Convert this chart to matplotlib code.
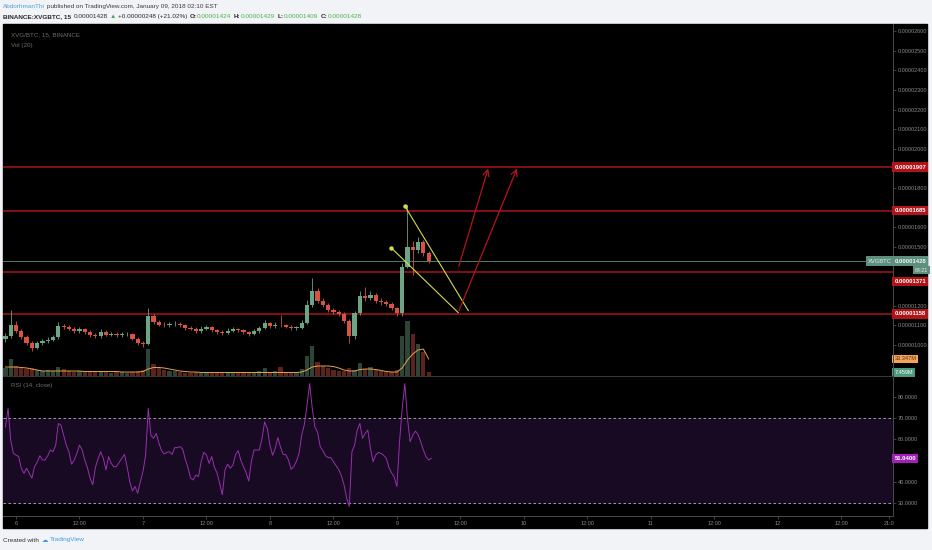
import matplotlib
matplotlib.use('Agg')
import numpy as np
import matplotlib.pyplot as plt
from matplotlib.patches import Rectangle

plt.rcParams['font.family'] = ['Liberation Sans', 'DejaVu Sans']

W, H = 932, 550

# one candle per hour, hours counted from 2018-01-06 00:00
hours = list(range(-2, 79))
first_open = 1030
# prices in satoshi (1e-8 BTC)
closes = [1044, 1104, 1070, 1039, 1010, 985, 1010, 1019, 1028, 1039,
          1096, 1090, 1084, 1070, 1079, 1067, 1050, 1044, 1067, 1053,
          1058, 1050, 1055, 1056, 1033, 1010, 1005, 1147, 1118, 1104,
          1100, 1106, 1107, 1102, 1087, 1084, 1070, 1082, 1092, 1075,
          1067, 1063, 1073, 1079, 1075, 1065, 1058, 1070, 1087, 1111,
          1096, 1104, 1100, 1094, 1087, 1089, 1113, 1206, 1274, 1226,
          1203, 1177, 1169, 1160, 1121, 1044, 1164, 1249, 1240, 1257,
          1223, 1220, 1211, 1189, 1164, 1399, 1501, 1484, 1526, 1469,
          1428]
highs = [1060, 1180, 1120, 1082, 1050, 1022, 1020, 1030, 1040, 1052,
         1115, 1108, 1100, 1092, 1090, 1088, 1075, 1060, 1080, 1075,
         1068, 1066, 1065, 1068, 1062, 1040, 1018, 1189, 1160, 1125,
         1115, 1118, 1120, 1115, 1108, 1095, 1090, 1095, 1102, 1098,
         1082, 1075, 1085, 1090, 1088, 1080, 1070, 1080, 1098, 1125,
         1118, 1115, 1155, 1108, 1100, 1098, 1125, 1230, 1341, 1290,
         1240, 1215, 1190, 1180, 1170, 1130, 1175, 1275, 1296, 1275,
         1265, 1240, 1230, 1218, 1195, 1420, 1713, 1530, 1552, 1535,
         1480]
lows = [1015, 1035, 1060, 1030, 1000, 970, 978, 1002, 1010, 1020,
        1030, 1080, 1075, 1062, 1062, 1058, 1042, 1035, 1038, 1045,
        1045, 1042, 1043, 1046, 1025, 1000, 992, 1000, 1105, 1095,
        1090, 1092, 1098, 1094, 1078, 1075, 1060, 1062, 1075, 1068,
        1058, 1052, 1055, 1065, 1066, 1056, 1048, 1052, 1062, 1080,
        1088, 1088, 1090, 1085, 1078, 1078, 1080, 1105, 1195, 1215,
        1195, 1168, 1160, 1150, 1110, 1010, 1030, 1155, 1225, 1230,
        1212, 1205, 1200, 1180, 1150, 1150, 1390, 1357, 1470, 1455,
        1420]
# volume in millions, and its 20 period average
volume = [15.7, 33.3, 19.6, 15.7, 13.7, 15.7, 11.8, 9.8, 11.8, 9.8,
          17.6, 13.7, 9.8, 7.8, 9.8, 7.8, 9.8, 7.8, 9.8, 7.8,
          5.9, 7.8, 7.8, 5.9, 7.8, 9.8, 11.8, 52.9, 23.5, 15.7,
          11.8, 9.8, 9.8, 7.8, 5.9, 5.9, 7.8, 5.9, 7.8, 5.9,
          5.9, 5.9, 7.8, 5.9, 5.9, 7.8, 5.9, 5.9, 9.8, 15.7,
          7.8, 9.8, 17.6, 7.8, 5.9, 7.8, 13.7, 39.2, 58.8, 27.4,
          19.6, 15.7, 11.8, 9.8, 9.8, 15.7, 11.8, 25.5, 13.7, 17.6,
          11.8, 9.8, 7.8, 7.8, 11.8, 78.4, 107.8, 82.3, 62.7, 47.0,
          7.459]
vol_ma = [17.6, 17.6, 17.6, 16.7, 15.7, 13.7, 11.8, 9.8, 9.8, 9.8,
          9.8, 9.8, 9.8, 9.8, 9.8, 8.8, 8.8, 8.8, 8.8, 8.8,
          8.8, 8.8, 7.8, 7.8, 7.8, 7.8, 8.8, 13.7, 16.7, 16.7,
          15.7, 13.7, 11.8, 9.8, 8.8, 7.8, 7.8, 6.9, 6.9, 6.9,
          6.9, 6.9, 6.9, 6.9, 6.9, 6.9, 6.9, 6.9, 6.9, 6.9,
          6.9, 6.9, 6.9, 6.9, 6.9, 6.9, 7.8, 11.8, 17.6, 19.6,
          19.6, 19.6, 18.6, 15.7, 11.8, 9.8, 9.8, 12.7, 13.7, 13.7,
          12.7, 10.8, 8.8, 7.8, 7.8, 15.7, 31.4, 43.1, 51.0, 52.9,
          33.347]
# RSI(14) every half hour from hour -2
rsi = [65.9, 74.6, 59.7, 53.4, 52.6, 51.9, 46.4, 44.0, 46.4, 44.0,
       41.7, 47.2, 49.2, 52.3, 50.3, 50.3, 52.3, 55.0, 54.2, 57.3,
       67.5, 66.7, 62.0, 57.3, 54.2, 48.3, 50.3, 53.4, 57.3, 55.0,
       50.3, 46.7, 41.7, 38.6, 46.7, 50.8, 54.2, 51.1, 45.6, 51.9,
       48.7, 47.0, 47.3, 49.2, 51.1, 52.9, 47.2, 40.1, 35.7, 37.8,
       34.6, 40.1, 44.8, 52.6, 74.6, 62.0, 60.5, 62.8, 58.4, 54.7,
       53.1, 53.9, 54.2, 52.9, 56.1, 56.1, 56.6, 55.5, 50.6, 46.7,
       41.7, 40.9, 43.2, 42.5, 49.5, 53.9, 52.6, 48.7, 51.9, 46.8,
       44.2, 39.2, 33.9, 45.6, 48.3, 46.4, 47.9, 52.9, 54.7, 50.1,
       47.2, 44.3, 40.4, 49.8, 55.0, 55.0, 55.0, 60.5, 68.3, 65.2,
       57.3, 52.5, 55.8, 60.8, 56.4, 52.9, 52.8, 50.3, 45.9, 47.2,
       49.7, 53.3, 62.0, 67.0, 75.8, 86.3, 74.6, 65.9, 63.4, 56.6,
       54.7, 52.3, 51.4, 51.4, 49.5, 47.6, 45.8, 42.9, 38.6, 32.3,
       28.4, 54.2, 57.3, 64.4, 67.5, 60.5, 62.8, 64.4, 55.8, 49.5,
       52.6, 53.9, 53.4, 52.5, 51.1, 46.7, 44.2, 42.2, 37.8, 58.9,
       74.6, 86.3, 69.9, 58.9, 62.0, 63.9, 62.3, 58.9, 55.0, 51.9,
       50.3, 51.04]

levels = [1907, 1685, 1371, 1158]
last_price = 1428
# user drawings: (hour, price) anchors
wedge_top = [(73.5, 1708), (85.5, 1175)]
wedge_bottom = [(70.9, 1496), (83.6, 1165)]
arrow_left = [(83.55, 1387), (89.4, 1913)]
arrow_right = [(83.55, 1163), (94.9, 1913)]

price_ticks = [1000, 1100, 1200, 1500, 1600, 1800, 2000, 2100, 2200,
               2300, 2400, 2500, 2600]
rsi_ticks = [30, 40, 60, 70, 80]
day_ticks = [0, 12, 24, 36, 48, 60, 72, 84, 96, 108, 120, 132, 144, 156, 165]
day_labels = ['6', '12:00', '7', '12:00', '8', '12:00', '9', '12:00',
              '10', '12:00', '11', '12:00', '12', '12:00', '21:0']

UP = '#6ba583'
DOWN = '#d75442'
LEVEL = '#a8141a'
GRAYTXT = '#8a8a8a'


def px_axes(fig, x0, y0, x1, y1):
    return fig.add_axes([x0 / W, 1 - y1 / H, (x1 - x0) / W, (y1 - y0) / H])


def axis_tag(a, y, txt, bg, fg, dx=1.0, dy=0.0, ha='left', size=4.2, bold=True):
    a.annotate(txt, xy=(1, y), xycoords=('axes fraction', 'data'),
               xytext=(dx, dy), textcoords='offset points', ha=ha, va='center',
               fontsize=size, color=fg, fontweight='bold' if bold else 'normal',
               bbox=dict(boxstyle='square,pad=0.35', fc=bg, ec='none'),
               annotation_clip=False, zorder=10)


def text_runs(fig, x, y, runs, size):
    r = fig.canvas.get_renderer()
    for txt, col, wt, gap in runs:
        t = fig.text(x / W, 1 - y / H, txt, color=col, fontsize=size,
                     fontweight=wt, va='center', ha='left')
        x += t.get_window_extent(renderer=r).width + gap


def style_axis(a):
    for s in a.spines.values():
        s.set_visible(False)
    a.set_facecolor('none')


fig = plt.figure(figsize=(W / 100, H / 100), dpi=100, facecolor='#f1f3f6')
fig.add_artist(Rectangle((3 / W, 1 - 528 / H), 924 / W, 504 / H,
                         transform=fig.transFigure, color='black', zorder=0))

ax_vol = px_axes(fig, 3, 24, 893, 376)
ax = px_axes(fig, 3, 24, 893, 376)
ax_rsi = px_axes(fig, 3, 377, 893, 516)
for a in (ax_vol, ax, ax_rsi):
    style_axis(a)
    a.set_xlim(-2.46, 165.78)

o = np.array([first_open] + closes[:-1], dtype=float)
c = np.array(closes, dtype=float)
colors = np.where(c >= o, UP, DOWN)

# volume
ax_vol.bar(hours, volume, width=0.8, color=colors, alpha=0.42, linewidth=0)
ax_vol.plot(hours, vol_ma, color='#e9a04e', lw=0.7)
ax_vol.set_ylim(0, 690)
ax_vol.set_xticks([])
ax_vol.set_yticks([])
axis_tag(ax_vol, vol_ma[-1], '33.347M', '#f2a35c', '#5a3000', size=4.0,
         bold=False)
axis_tag(ax_vol, volume[-1], '7.459M', '#4f9a7a', 'white', size=4.0,
         bold=False)

# price
for lv in levels:
    ax.axhline(lv, color=LEVEL, lw=1.1, zorder=1)
ax.axhline(last_price, color='#4e7d6d', lw=0.7, zorder=1)
ax.vlines(hours, lows, highs, colors=colors, lw=0.6, zorder=2)
ax.bar(hours, np.maximum(np.abs(c - o), 3), bottom=np.minimum(o, c),
       width=0.8, color=colors, linewidth=0, zorder=3)

for line in (wedge_top, wedge_bottom):
    xs, ys = zip(*line)
    ax.plot(xs, ys, color='#d8d848', lw=0.8, zorder=4)
    ax.plot(xs[0], ys[0], 'o', color='#d8d848', ms=2.2, zorder=4)
for line in (arrow_left, arrow_right):
    ax.annotate('', xy=line[1], xytext=line[0],
                arrowprops=dict(arrowstyle='->,head_length=0.5,head_width=0.25',
                                color='#b3151b', lw=0.9, mutation_scale=9),
                zorder=4)

ax.set_ylim(842, 2636)
ax.yaxis.tick_right()
ax.set_yticks(price_ticks)
ax.set_yticklabels(['%.8f' % (v * 1e-8) for v in price_ticks])
ax.tick_params(axis='y', colors='#5a5a5a', labelcolor=GRAYTXT, labelsize=4.0,
               length=2, width=0.5, pad=1.5)
ax.set_xticks([])
ax.spines['right'].set_visible(True)
ax.spines['right'].set_color('#4a4a4a')
ax.spines['right'].set_linewidth(0.7)
ax.spines['bottom'].set_visible(True)
ax.spines['bottom'].set_color('#3a3a3a')
ax.spines['bottom'].set_linewidth(0.7)

for lv in levels:
    # the tag under the countdown box is pushed down, as on the source chart
    shift = -6.5 if lv == 1371 else 0.0
    axis_tag(ax, lv, '%.8f' % (lv * 1e-8), '#b01418', 'white', dy=shift)
axis_tag(ax, last_price, '%.8f' % (last_price * 1e-8), '#5d8f7e', '#eef6f2')
axis_tag(ax, last_price, 'XVGBTC', '#5d8f7e', '#e6efea', dx=-1.0, ha='right',
         bold=False)
axis_tag(ax, last_price, '84:21', '#5d8f7e', '#e6efea', dx=25.5, dy=-6.5,
         ha='right', size=3.8, bold=False)

ax.text(8 / 890, 1 - 11 / 352, 'XVG/BTC, 15, BINANCE', transform=ax.transAxes,
        color='#6e6e6e', fontsize=4.5, va='center')
ax.text(8 / 890, 1 - 21 / 352, 'Vol (20)', transform=ax.transAxes,
        color='#6e6e6e', fontsize=4.5, va='center')

# RSI
rsi_t = np.arange(len(rsi)) * 0.5 - 2
ax_rsi.axhspan(30, 70, color='#170a22', zorder=0)
for lv in (70, 30):
    ax_rsi.axhline(lv, color='#b5b5b5', lw=0.6, ls=(0, (3, 3)), zorder=1)
ax_rsi.plot(rsi_t, rsi, color='#9a2fb0', lw=0.7, zorder=2)
ax_rsi.set_ylim(23.9, 89.4)
ax_rsi.yaxis.tick_right()
ax_rsi.set_yticks(rsi_ticks)
ax_rsi.set_yticklabels(['%.4f' % v for v in rsi_ticks])
ax_rsi.tick_params(axis='y', colors='#5a5a5a', labelcolor=GRAYTXT,
                   labelsize=4.0, length=2, width=0.5, pad=1.5)
ax_rsi.set_xticks(day_ticks)
ax_rsi.set_xticklabels(day_labels)
ax_rsi.tick_params(axis='x', colors='#5a5a5a', labelcolor=GRAYTXT,
                   labelsize=4.0, length=2, width=0.5, pad=1.5)
for s in ('right', 'bottom'):
    ax_rsi.spines[s].set_visible(True)
    ax_rsi.spines[s].set_color('#4a4a4a')
    ax_rsi.spines[s].set_linewidth(0.7)
axis_tag(ax_rsi, rsi[-1], '%.4f' % rsi[-1], '#a020b8', 'white')
ax_rsi.text(8 / 890, 1 - 9 / 139, 'RSI (14, close)', transform=ax_rsi.transAxes,
            color='#6e6e6e', fontsize=4.5, va='center')

# header and footer
DARK = '#2a2a2a'
GREEN = '#4caf50'
text_runs(fig, 3, 6.5, [('AbdorhmanThi', '#4aa3df', 'normal', 1.8),
                        ('published on TradingView.com, January 09, 2018 02:10 EST',
                         '#3a3a3a', 'normal', 0)], 4.6)
text_runs(fig, 3, 16.5, [('BINANCE:XVGBTC, 15', DARK, 'bold', 2.5),
                         ('0.00001428', DARK, 'normal', 1.8),
                         ('\u25b2', '#3aa757', 'normal', 1.8),
                         ('+0.00000248 (+21.02%)', DARK, 'normal', 2.5),
                         ('O:', DARK, 'bold', 0.4),
                         ('0.00001424', GREEN, 'normal', 2.5),
                         ('H:', DARK, 'bold', 0.4),
                         ('0.00001429', GREEN, 'normal', 2.5),
                         ('L:', DARK, 'bold', 0.4),
                         ('0.00001409', GREEN, 'normal', 2.5),
                         ('C:', DARK, 'bold', 0.4),
                         ('0.00001428', GREEN, 'normal', 0)], 4.6)
text_runs(fig, 3, 540, [('Created with', '#333333', 'normal', 3),
                        ('\u2601', '#3d9be9', 'normal', 2),
                        ('TradingView', '#3d9be9', 'normal', 0)], 4.6)

fig.savefig('out.png', dpi=100, facecolor=fig.get_facecolor())
